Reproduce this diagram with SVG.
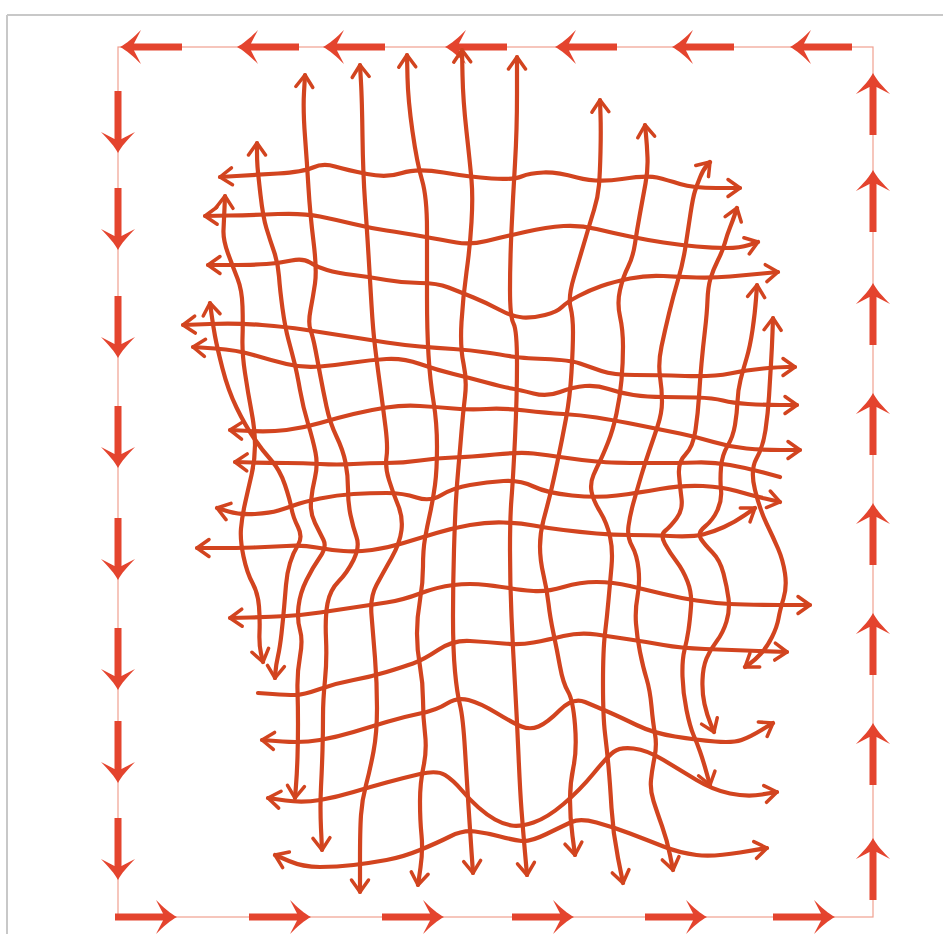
<svg xmlns="http://www.w3.org/2000/svg" width="943" height="934" viewBox="0 0 943 934">
<style>
.g{fill:none;stroke:#d2441f;stroke-width:4.2;stroke-linecap:round;stroke-linejoin:round}
.s{marker-start:url(#ah)}
.e{marker-end:url(#ah)}
.frame{fill:none;stroke:#f0a090;stroke-width:1.2}
.ba{fill:#e4442e}
</style>
<defs>
<marker id="ah" viewBox="-15 -12 18 24" markerWidth="18" markerHeight="24" refX="0" refY="0" orient="auto-start-reverse" markerUnits="userSpaceOnUse">
<path d="M-12,-8.5 L0,0 L-12,8.5" fill="none" stroke="#d2441f" stroke-width="3.5" stroke-linecap="round" stroke-linejoin="round"/>
</marker>
<g id="ba" class="ba">
<rect x="-62" y="-3.5" width="49" height="7"/>
<path d="M0,0 C-6,-3 -14,-10 -21,-17 L-14,-3.5 L-14,3.5 L-21,17 C-14,10 -6,3 0,0 Z"/>
</g>
</defs>
<rect width="943" height="934" fill="#ffffff"/>
<path d="M7,15 H943 M7,15 V934" fill="none" stroke="#c8c8c8" stroke-width="2"/>

<g id="border">
<rect class="frame" x="118" y="47" width="755" height="870"/>
<use href="#ba" transform="translate(120,47) rotate(180)"/>
<use href="#ba" transform="translate(237,47) rotate(180)"/>
<use href="#ba" transform="translate(323,47) rotate(180)"/>
<use href="#ba" transform="translate(445,47) rotate(180)"/>
<use href="#ba" transform="translate(555,47) rotate(180)"/>
<use href="#ba" transform="translate(672,47) rotate(180)"/>
<use href="#ba" transform="translate(790,47) rotate(180)"/>
<use href="#ba" transform="translate(118,153) rotate(90)"/>
<use href="#ba" transform="translate(118,250) rotate(90)"/>
<use href="#ba" transform="translate(118,358) rotate(90)"/>
<use href="#ba" transform="translate(118,468) rotate(90)"/>
<use href="#ba" transform="translate(118,580) rotate(90)"/>
<use href="#ba" transform="translate(118,690) rotate(90)"/>
<use href="#ba" transform="translate(118,783) rotate(90)"/>
<use href="#ba" transform="translate(118,880) rotate(90)"/>
<use href="#ba" transform="translate(177,917)"/>
<use href="#ba" transform="translate(311,917)"/>
<use href="#ba" transform="translate(444,917)"/>
<use href="#ba" transform="translate(574,917)"/>
<use href="#ba" transform="translate(707,917)"/>
<use href="#ba" transform="translate(835,917)"/>
<use href="#ba" transform="translate(873,73) rotate(-90)"/>
<use href="#ba" transform="translate(873,170) rotate(-90)"/>
<use href="#ba" transform="translate(873,283) rotate(-90)"/>
<use href="#ba" transform="translate(873,393) rotate(-90)"/>
<use href="#ba" transform="translate(873,503) rotate(-90)"/>
<use href="#ba" transform="translate(873,613) rotate(-90)"/>
<use href="#ba" transform="translate(873,723) rotate(-90)"/>
<use href="#ba" transform="translate(873,838) rotate(-90)"/>
</g>

<g id="grid-vertical">
<path id="va" class="g s e" d="M210,303 L211.5,314 Q213,325 215,336 Q217,347 222.5,368.5 Q228,390 236.5,407.5 Q245,425 253.5,437.5 Q262,450 271,460 Q280,470 285,485 Q290,500 291.5,508.5 Q293,517 298,527 Q303,537 298,545 Q293,553 290,563 Q287,573 286,585 Q285,597 284,608.5 Q283,620 281.5,633.5 Q280,647 278,656 Q276,665 275.5,671.5 L275,678"/>
<path id="vb" class="g s e" d="M225,196 L224.5,208 Q224,220 223.5,230 Q223,240 228,253.5 Q233,267 237.5,278.5 Q242,290 242.5,306.5 Q243,323 242.5,338 Q242,353 245,373 Q248,393 251.5,411.5 Q255,430 255,445 Q255,460 251.5,475 Q248,490 245,503.5 Q242,517 241,528.5 Q240,540 243.5,556.5 Q247,573 252.5,583 Q258,593 259,606.5 Q260,620 259.5,632.5 Q259,645 261,653.5 L263,662"/>
<path id="vc" class="g s e" d="M257,143 L257,151.5 Q257,160 257.5,166.5 Q258,173 260.5,195 Q263,217 266.5,228.5 Q270,240 274,251.5 Q278,263 279,276.5 Q280,290 282.5,308.5 Q285,327 288.5,340 Q292,353 294.5,363 Q297,373 300,390 Q303,407 308,423.5 Q313,440 315.5,452.5 Q318,465 315,477.5 Q312,490 311,501.5 Q310,513 315,523 Q320,533 323.5,540 Q327,547 320,557 Q313,567 306.5,580 Q300,593 298.5,606.5 Q297,620 300,630 Q303,640 300,656.5 Q297,673 297.5,690 Q298,707 298,723.5 Q298,740 297.5,756.5 Q297,773 296,785.5 L295,798"/>
<path id="vd" class="g s e" d="M305,75 L304,92.5 Q303,110 305,136.5 Q307,163 308.5,188 Q310,213 313.5,241.5 Q317,270 315,283.5 Q313,297 310.5,310 Q308,323 310.5,330 Q313,337 315.5,350 Q318,363 320.5,376.5 Q323,390 326.5,406.5 Q330,423 336.5,436.5 Q343,450 345.5,462.5 Q348,475 348,489 Q348,503 350.5,515 Q353,527 356.5,537 Q360,547 353.5,560 Q347,573 338.5,581.5 Q330,590 327.5,603.5 Q325,617 326,638.5 Q327,660 325,680 Q323,700 323,716.5 Q323,733 322.5,750 Q322,767 321,787 Q320,807 321,828.5 L322,850"/>
<path id="ve" class="g s e" d="M360,65 L361,82.5 Q362,100 362.5,136.5 Q363,173 365,201.5 Q367,230 368.5,255 Q370,280 371.5,305 Q373,330 375,346.5 Q377,363 380,385 Q383,407 385.5,427 Q388,447 386.5,457 Q385,467 389,480 Q393,493 398,505 Q403,517 401.5,530 Q400,543 391.5,558 Q383,573 376.5,585 Q370,597 371.5,615 Q373,633 375,658 Q377,683 377,708 Q377,733 373.5,751.5 Q370,770 366,785 Q362,800 361,815 Q360,830 360,861 L360,892"/>
<path id="vf" class="g s e" d="M407,55 L407.5,77.5 Q408,100 412.5,131.5 Q417,163 422,180 Q427,197 427,230 Q427,263 427,296.5 Q427,330 428.5,355 Q430,380 433.5,401.5 Q437,423 437,446.5 Q437,470 435,485 Q433,500 430,513.5 Q427,527 425,538.5 Q423,550 423,566.5 Q423,583 420,600 Q417,617 417,633.5 Q417,650 420,666.5 Q423,683 423,700 Q423,717 425,733.5 Q427,750 423.5,766.5 Q420,783 420,801.5 Q420,820 421.5,835 Q423,850 420.5,867.5 L418,885"/>
<path id="vg" class="g s e" d="M462,50 L462.5,75 Q463,100 466.5,131.5 Q470,163 471.5,180 Q473,197 471.5,222 Q470,247 466.5,272 Q463,297 461.5,322 Q460,347 463.5,363.5 Q467,380 465,396.5 Q463,413 461.5,431.5 Q460,450 458.5,466.5 Q457,483 456,500 Q455,517 454,550 Q453,583 453,616.5 Q453,650 455,671.5 Q457,693 460,705 Q463,717 465,750 Q467,783 468.5,806.5 Q470,830 471.5,851.5 L473,873"/>
<path id="vh" class="g s e" d="M517,57 L517,93.5 Q517,130 515,163.5 Q513,197 511.5,230 Q510,263 510,290 Q510,317 513.5,323.5 Q517,330 517,363.5 Q517,397 515,438.5 Q513,480 511.5,498.5 Q510,517 510,550 Q510,583 511.5,616.5 Q513,650 515,685 Q517,720 518.5,755 Q520,790 521.5,810 Q523,830 525,852.5 L527,875"/>
<path id="vi" class="g s e" d="M600,100 L600.5,115 Q601,130 600.5,151.5 Q600,173 599,185 Q598,197 594,210 Q590,223 585,240 Q580,257 574,277 Q568,297 570.5,307 Q573,317 573,332 Q573,347 571.5,372 Q570,397 566,418.5 Q562,440 557.5,461.5 Q553,483 550,495 Q547,507 543.5,520 Q540,533 540,546.5 Q540,560 543.5,575 Q547,590 548.5,603.5 Q550,617 553.5,633.5 Q557,650 560,666.5 Q563,683 568,691.5 Q573,700 575,725 Q577,750 573.5,766.5 Q570,783 570,800 Q570,817 572.5,836 L575,855"/>
<path id="vj" class="g s e" d="M645,125 L646,135 Q647,145 647.5,157.5 Q648,170 645.5,183.5 Q643,197 640,213.5 Q637,230 635,243.5 Q633,257 628,267 Q623,277 620,290 Q617,303 620,316.5 Q623,330 623,346.5 Q623,363 621.5,380 Q620,397 616.5,413.5 Q613,430 608,442.5 Q603,455 600,461 Q597,467 593.5,475 Q590,483 591.5,491.5 Q593,500 600,511.5 Q607,523 610,536.5 Q613,550 611.5,566.5 Q610,583 608.5,600 Q607,617 605,633.5 Q603,650 603,683.5 Q603,717 605,733.5 Q607,750 608.5,766.5 Q610,783 611.5,808 Q613,833 618,858 L623,883"/>
<path id="vk" class="g s e" d="M710,162 L706.5,166 Q703,170 700,177.5 Q697,185 695,191 Q693,197 690.5,213.5 Q688,230 685.5,246.5 Q683,263 678,280 Q673,297 669,313.5 Q665,330 661.5,346.5 Q658,363 660,376.5 Q662,390 662,401.5 Q662,413 657.5,426.5 Q653,440 649,451.5 Q645,463 641,476.5 Q637,490 633.5,502.5 Q630,515 628.5,526 Q627,537 632,546 Q637,555 638.5,569 Q640,583 637.5,596.5 Q635,610 636,623.5 Q637,637 640,652 Q643,667 646.5,678.5 Q650,690 651.5,706.5 Q653,723 655,734 Q657,745 654.5,757.5 Q652,770 651,780 Q650,790 653.5,801 Q657,812 662,826 Q667,840 670,855 L673,870"/>
<path id="vl" class="g s e" d="M737,208 L735,214 Q733,220 730,227.5 Q727,235 725,242.5 Q723,250 718,260 Q713,270 710.5,278.5 Q708,287 707.5,300 Q707,313 705,330 Q703,347 701.5,363.5 Q700,380 699,396.5 Q698,413 695.5,430 Q693,447 685.5,454.5 Q678,462 679,474.5 Q680,487 681.5,498.5 Q683,510 676.5,518.5 Q670,527 665,531 Q660,535 665,544 Q670,553 676.5,561.5 Q683,570 687.5,581.5 Q692,593 691,606.5 Q690,620 688.5,630 Q687,640 684.5,650 Q682,660 682.5,676.5 Q683,693 686.5,710 Q690,727 693.5,735 Q697,743 700,751.5 Q703,760 706.5,772.5 L710,785"/>
<path id="vm" class="g s e" d="M757,285 L756,299 Q755,313 752.5,330 Q750,347 746.5,358.5 Q743,370 740.5,380 Q738,390 737.5,401.5 Q737,413 735,425 Q733,437 727.5,446 Q722,455 721,467.5 Q720,480 721,490 Q722,500 717.5,510 Q713,520 705,526.5 Q697,533 701,539 Q705,545 712.5,552.5 Q720,560 723.5,573.5 Q727,587 728.5,598.5 Q730,610 726.5,621.5 Q723,633 716.5,641.5 Q710,650 706.5,658.5 Q703,667 702.5,680 Q702,693 704.5,704 Q707,715 710.5,723.5 L714,732"/>
<path id="vn" class="g s e" d="M773,318 L772.5,332.5 Q772,347 771,363.5 Q770,380 769,396.5 Q768,413 765.5,430 Q763,447 756.5,458.5 Q750,470 755,490 Q760,510 766.5,523.5 Q773,537 778,548.5 Q783,560 785,573.5 Q787,587 783.5,598.5 Q780,610 778.5,618.5 Q777,627 772,637 Q767,647 761,653.5 Q755,660 750,663.5 L745,667"/>
</g>

<g id="grid-horizontal">
<path id="h1" class="g s e" d="M220,177 L236.5,176 Q253,175 278,173.5 Q303,172 313,167.5 Q323,163 335,166.5 Q347,170 367,174 Q387,178 402,173 Q417,168 443.5,172.5 Q470,177 491.5,178.5 Q513,180 521.5,176.5 Q530,173 543.5,172.5 Q557,172 577,177.5 Q597,183 622,179 Q647,175 657,177.5 Q667,180 680,184 Q693,188 716.5,188 L740,188"/>
<path id="h2" class="g s e" d="M205,216 L229,215.5 Q253,215 278,214 Q303,213 320,216.5 Q337,220 353.5,224 Q370,228 386.5,230.5 Q403,233 423,236.5 Q443,240 456.5,242.5 Q470,245 486.5,241 Q503,237 525,232 Q547,227 563.5,226 Q580,225 596.5,229 Q613,233 630,236.5 Q647,240 663.5,242.5 Q680,245 696.5,246.5 Q713,248 726.5,248 Q740,248 749,245 L758,242"/>
<path id="h3" class="g s e" d="M208,265 L230.5,265 Q253,265 266.5,264 Q280,263 291.5,260.5 Q303,258 310,262.5 Q317,267 327,270 Q337,273 353.5,275 Q370,277 386.5,280 Q403,283 420,283 Q437,283 448.5,287.5 Q460,292 473.5,297.5 Q487,303 500,310 Q513,317 523,317.5 Q533,318 545,315 Q557,312 562,307 Q567,302 578.5,296 Q590,290 601.5,286 Q613,282 630,278.5 Q647,275 663.5,276 Q680,277 696.5,277.5 Q713,278 730,276.5 Q747,275 762.5,273.5 L778,272"/>
<path id="h4" class="g s e" d="M183,325 L210,324 Q237,323 262,325 Q287,327 303.5,329.5 Q320,332 345,336 Q370,340 386.5,342.5 Q403,345 420,346.5 Q437,348 453.5,349 Q470,350 486.5,352.5 Q503,355 511.5,356.5 Q520,358 545,359 Q570,360 580,363.5 Q590,367 601.5,371 Q613,375 635,375 Q657,375 685,376 Q713,377 730,373.5 Q747,370 763.5,368.5 Q780,367 787.5,367 L795,367"/>
<path id="h5" class="g s e" d="M193,347 L215,348.5 Q237,350 253.5,355 Q270,360 286.5,364 Q303,368 320,366.5 Q337,365 353.5,362.5 Q370,360 386.5,359 Q403,358 420,364 Q437,370 453.5,374 Q470,378 486.5,382.5 Q503,387 511.5,388.5 Q520,390 533.5,393.5 Q547,397 560,392 Q573,387 585,386 Q597,385 608.5,389 Q620,393 633.5,395 Q647,397 663.5,397 Q680,397 696.5,397.5 Q713,398 723,400.5 Q733,403 748,404 Q763,405 780,405 L797,405"/>
<path id="h6" class="g s e" d="M230,430 L250,431 Q270,432 286.5,430 Q303,428 320,423 Q337,418 353.5,414 Q370,410 386.5,407.5 Q403,405 420,406 Q437,407 453.5,408.5 Q470,410 486.5,409 Q503,408 525,410.5 Q547,413 563.5,414 Q580,415 596.5,417.5 Q613,420 638,425 Q663,430 680,433.5 Q697,437 713.5,442 Q730,447 746.5,448.5 Q763,450 781.5,450 L800,450"/>
<path id="h7" class="g s" d="M235,462 L252.5,462.5 Q270,463 286.5,463 Q303,463 320,464 Q337,465 353.5,464 Q370,463 386.5,463 Q403,463 420,460.5 Q437,458 453.5,457.5 Q470,457 495,454.5 Q520,452 533.5,453.5 Q547,455 563.5,457.5 Q580,460 596.5,461.5 Q613,463 646.5,463 Q680,463 696.5,462.5 Q713,462 730,465 Q747,468 763.5,472.5 L780,477"/>
<path id="h8" class="g s e" d="M217,508 L228.5,511.5 Q240,515 255,514 Q270,513 278.5,510.5 Q287,508 295,505 Q303,502 320,498.5 Q337,495 353.5,494 Q370,493 386.5,493 Q403,493 416.5,497.5 Q430,502 441.5,495 Q453,488 470,485 Q487,482 503.5,481 Q520,480 533.5,486.5 Q547,493 572,495.5 Q597,498 617,495.5 Q637,493 660,489 Q683,485 703,486 Q723,487 736.5,491 Q750,495 765,498.5 L780,502"/>
<path id="h9" class="g s e" d="M197,548 L217,548 Q237,548 253.5,547.5 Q270,547 286.5,546 Q303,545 316.5,547.5 Q330,550 343.5,551 Q357,552 372,550 Q387,548 403.5,543 Q420,538 436.5,533 Q453,528 470,525 Q487,522 503.5,522.5 Q520,523 533.5,525.5 Q547,528 563.5,530 Q580,532 596.5,533.5 Q613,535 630,535 Q647,535 670,536 Q693,537 703,534.5 Q713,532 724,527 Q735,522 745,515 L755,508"/>
<path id="h10" class="g s e" d="M230,618 L250,617.5 Q270,617 286.5,616 Q303,615 320,612.5 Q337,610 353.5,607.5 Q370,605 386.5,602.5 Q403,600 420,593.5 Q437,587 453.5,585 Q470,583 486.5,585 Q503,587 511.5,588.5 Q520,590 533.5,591 Q547,592 563.5,587 Q580,582 596.5,582 Q613,582 630,586 Q647,590 663.5,594 Q680,598 696.5,600.5 Q713,603 730,604 Q747,605 778.5,605 L810,605"/>
<path id="h11" class="g e" d="M258,693 L272.5,694 Q287,695 295,695 Q303,695 320,689 Q337,683 353.5,680 Q370,677 386.5,672 Q403,667 413,663.5 Q423,660 438,650 Q453,640 470,641 Q487,642 503.5,643.5 Q520,645 533.5,642.5 Q547,640 563.5,636 Q580,632 596.5,634.5 Q613,637 630,639.5 Q647,642 663.5,645 Q680,648 705,649 Q730,650 758.5,651 L787,652"/>
<path id="h12" class="g s e" d="M262,740 L282.5,741.5 Q303,743 320,740 Q337,737 353.5,732 Q370,727 386.5,722 Q403,717 420,713.5 Q437,710 447,703.5 Q457,697 468.5,700 Q480,703 496.5,713 Q513,723 521.5,726.5 Q530,730 538.5,726.5 Q547,723 560,710 Q573,697 585,702 Q597,707 608.5,712 Q620,717 636.5,725 Q653,733 675,736.5 Q697,740 715,741.5 Q733,743 741.5,740 Q750,737 761.5,730 L773,723"/>
<path id="h13" class="g s e" d="M268,798 L285.5,800.5 Q303,803 320,800 Q337,797 353.5,792 Q370,787 386.5,782.5 Q403,778 420,774 Q437,770 445,775 Q453,780 461.5,790 Q470,800 478.5,807.5 Q487,815 495,819.5 Q503,824 511.5,825.5 Q520,827 533.5,822.5 Q547,818 563.5,804 Q580,790 593.5,773.5 Q607,757 613.5,752 Q620,747 633.5,748.5 Q647,750 663.5,760 Q680,770 696.5,780 Q713,790 730,793.5 Q747,797 762,794.5 L777,792"/>
<path id="h14" class="g s e" d="M275,855 L289,861 Q303,867 320,867 Q337,867 353.5,865 Q370,863 386.5,860 Q403,857 420,850 Q437,843 450,836.5 Q463,830 475,831.5 Q487,833 500,836.5 Q513,840 521.5,841 Q530,842 546.5,834 Q563,826 571.5,822 Q580,818 596.5,822.5 Q613,827 630,833.5 Q647,840 663.5,846.5 Q680,853 696.5,855 Q713,857 740,852.5 L767,848"/>
</g>
</svg>
